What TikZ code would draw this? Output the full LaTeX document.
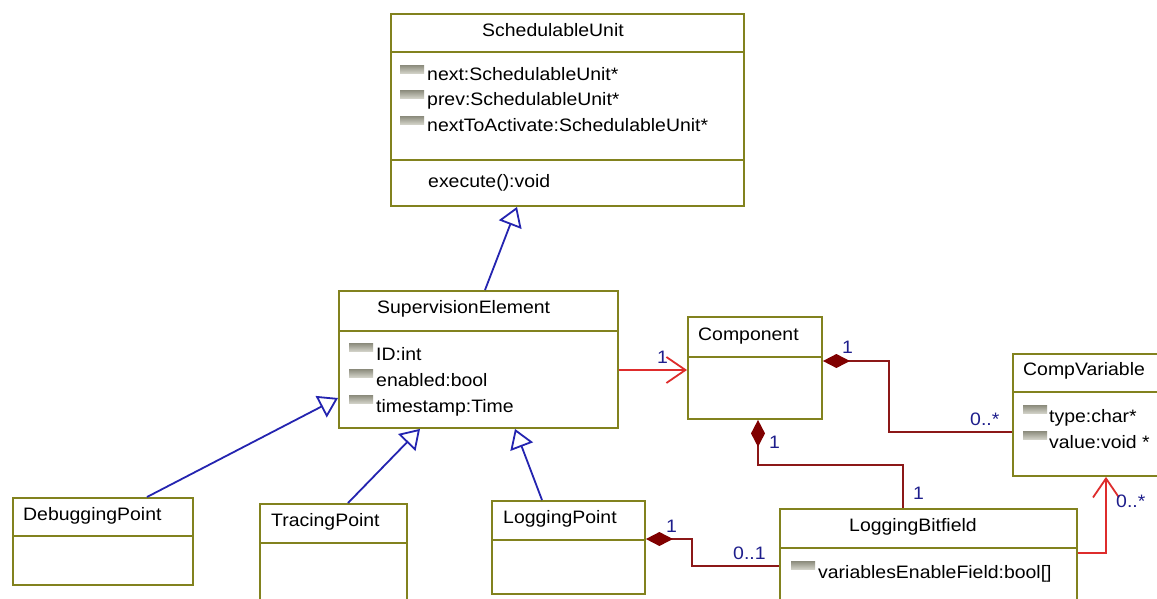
\documentclass[tikz,border=0pt]{standalone}
\usepackage{fontspec}
\setmainfont{Liberation Sans}[FakeStretch=1.08]
\usetikzlibrary{arrows.meta}

\definecolor{boxline}{RGB}{130,130,30}
\definecolor{genblue}{RGB}{36,36,176}
\definecolor{assocred}{RGB}{222,44,44}
\definecolor{compline}{RGB}{140,24,24}
\definecolor{compfill}{RGB}{128,0,0}
\definecolor{multblue}{RGB}{30,30,140}
\definecolor{icontop}{RGB}{140,140,125}
\definecolor{iconbot}{RGB}{210,210,200}

\begin{document}
\begin{tikzpicture}[x=1pt,y=-1pt,
  classbox/.style={draw=boxline, line width=1.9pt, fill=white, rectangle,
    inner sep=0pt, anchor=north west},
  divider/.style={draw=boxline, line width=1.9pt},
  txt/.style={font=\fontsize{18pt}{21pt}\selectfont, inner sep=0pt, anchor=base west},
  mult/.style={txt, text=multblue},
  icon/.style={rectangle, inner sep=0pt, anchor=north west, minimum width=24pt,
    minimum height=8pt, top color=icontop, bottom color=iconbot},
  gen/.style={draw=genblue, line width=1.8pt,
    -{Triangle[open, length=19pt, width=24pt, fill=white]}},
  assoc/.style={draw=assocred, line width=1.8pt,
    -{Straight Barb[length=19pt, width=26pt]}},
  compo/.style={draw=compline, line width=1.8pt,
    {Diamond[length=27pt, width=14pt, fill=compfill, color=compfill]}-},
]
\clip (0,0) rectangle (1157,599);
\fill[white] (0,0) rectangle (1157,599);

% ---------- classes ----------
\node[classbox, minimum width=353pt, minimum height=192pt] (su) at (390,13) {};
\draw[divider] ([yshift=-39pt]su.north west) -- ([yshift=-39pt]su.north east);
\draw[divider] ([yshift=-147pt]su.north west) -- ([yshift=-147pt]su.north east);
\node[txt] (su-t) at (482,37) {SchedulableUnit};
\node[icon] (su-i1) at (400,65) {};
\node[icon] (su-i2) at (400,90) {};
\node[icon] (su-i3) at (400,116) {};
\node[txt] (su-a1) at (427,81) {next:SchedulableUnit*};
\node[txt] (su-a2) at (427,106) {prev:SchedulableUnit*};
\node[txt] (su-a3) at (427,132) {nextToActivate:SchedulableUnit*};
\node[txt] (su-o1) at (428,187) {execute():void};

\node[classbox, minimum width=279pt, minimum height=137pt] (se) at (338,290) {};
\draw[divider] ([yshift=-41pt]se.north west) -- ([yshift=-41pt]se.north east);
\node[txt] (se-t) at (377,313) {SupervisionElement};
\node[icon] (se-i1) at (349,343) {};
\node[icon] (se-i2) at (349,369) {};
\node[icon] (se-i3) at (349,395) {};
\node[txt] (se-a1) at (376,360) {ID:int};
\node[txt] (se-a2) at (376,386) {enabled:bool};
\node[txt] (se-a3) at (376,412) {timestamp:Time};

\node[classbox, minimum width=134pt, minimum height=102pt] (comp) at (687,316) {};
\draw[divider] ([yshift=-41pt]comp.north west) -- ([yshift=-41pt]comp.north east);
\node[txt] (comp-t) at (698,340) {Component};

\node[classbox, minimum width=152pt, minimum height=122pt] (cv) at (1012,353) {};
\draw[divider] ([yshift=-39pt]cv.north west) -- ([yshift=-39pt]cv.north east);
\node[txt] (cv-t) at (1023,375) {CompVariable};
\node[icon] (cv-i1) at (1023,405) {};
\node[icon] (cv-i2) at (1023,431) {};
\node[txt] (cv-a1) at (1049,422) {type:char*};
\node[txt] (cv-a2) at (1049,448) {value:void *};

\node[classbox, minimum width=180pt, minimum height=87pt] (dp) at (12,497) {};
\draw[divider] ([yshift=-39pt]dp.north west) -- ([yshift=-39pt]dp.north east);
\node[txt] (dp-t) at (23,520) {DebuggingPoint};

\node[classbox, minimum width=147pt, minimum height=102pt] (tp) at (259,503) {};
\draw[divider] ([yshift=-40pt]tp.north west) -- ([yshift=-40pt]tp.north east);
\node[txt] (tp-t) at (271,526) {TracingPoint};

\node[classbox, minimum width=153pt, minimum height=93pt] (lp) at (491,500) {};
\draw[divider] ([yshift=-40pt]lp.north west) -- ([yshift=-40pt]lp.north east);
\node[txt] (lp-t) at (503,523) {LoggingPoint};

\node[classbox, minimum width=297pt, minimum height=97pt] (lb) at (779,508) {};
\draw[divider] ([yshift=-40pt]lb.north west) -- ([yshift=-40pt]lb.north east);
\node[txt] (lb-t) at (849,531) {LoggingBitfield};
\node[icon] (lb-i1) at (791,561) {};
\node[txt] (lb-a1) at (818,578) {variablesEnableField:bool[]};

% ---------- generalizations ----------
\draw[gen] ([xshift=147pt]se.north west) -- ([xshift=127pt]su.south west);
\draw[gen] ([xshift=135pt]dp.north west) -- ([yshift=-108pt]se.north west);
\draw[gen] ([xshift=89pt]tp.north west) -- ([xshift=82pt]se.south west);
\draw[gen] ([xshift=51pt]lp.north west) -- ([xshift=177pt]se.south west);

% ---------- associations ----------
\draw[assoc] ([yshift=-80pt]se.north east) -- ([yshift=-54pt]comp.north west);
\draw[assoc] ([yshift=-45pt]lb.north east) -| ([xshift=94pt]cv.south west);

% ---------- compositions ----------
\draw[compo] ([yshift=-45pt]comp.north east) -- ++(66,0) |- ([yshift=-79pt]cv.north west);
\draw[compo] ([xshift=71pt]comp.south west) -- ++(0,45) -| ([xshift=124pt]lb.north west);
\draw[compo] ([yshift=-39pt]lp.north east) -- ++(46,0) |- ([yshift=-58pt]lb.north west);

% ---------- multiplicities ----------
\node[mult] (m1) at (657,363) {1};
\node[mult] (m2) at (842,353) {1};
\node[mult] (m3) at (769,448) {1};
\node[mult] (m4) at (970,425) {0..*};
\node[mult] (m5) at (913,499) {1};
\node[mult] (m6) at (1116,507) {0..*};
\node[mult] (m7) at (666,532) {1};
\node[mult] (m8) at (733,559) {0..1};
\end{tikzpicture}
\end{document}
